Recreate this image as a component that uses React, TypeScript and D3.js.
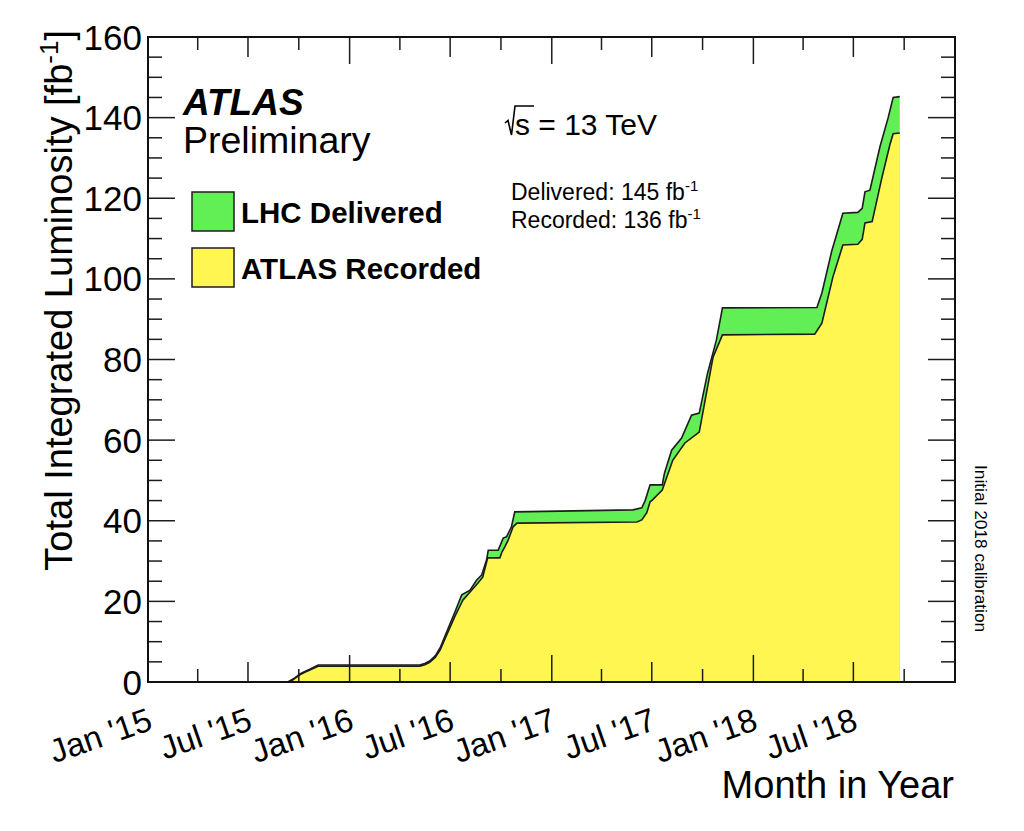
import React from "react";
import * as d3 from "d3";

const deliveredDates = [
  "2015-09-11", "2015-09-24", "2015-10-03", "2015-10-12", "2015-10-21", "2015-11-05",
  "2016-05-07", "2016-05-16", "2016-05-25", "2016-06-04", "2016-06-13", "2016-06-22",
  "2016-07-01", "2016-07-10", "2016-07-22", "2016-08-06", "2016-08-18", "2016-08-27",
  "2016-09-05", "2016-09-08", "2016-09-26", "2016-10-05", "2016-10-11", "2016-10-20",
  "2016-10-26", "2017-05-28", "2017-06-13", "2017-06-19", "2017-06-28", "2017-07-20",
  "2017-07-24", "2017-08-06", "2017-08-24", "2017-09-11", "2017-09-25", "2017-10-10",
  "2017-10-26", "2017-11-06", "2018-04-26", "2018-05-05", "2018-05-23", "2018-06-12",
  "2018-07-09", "2018-07-17", "2018-07-22", "2018-07-31", "2018-08-18", "2018-09-02",
  "2018-09-11", "2018-09-23",
];
const deliveredValues = [
  0, 1.0, 2.0, 2.6, 3.2, 4.2,
  4.2, 4.6, 5.2, 6.5, 8.5, 11.5,
  14.5, 17.5, 21.6, 22.8, 25.3, 26.5,
  30.3, 32.7, 32.7, 35.7, 36.0, 38.5,
  42.2, 42.7, 43.2, 45.0, 48.9, 48.9,
  51.8, 57.5, 60.5, 66.2, 66.7, 76.6,
  84.8, 92.8, 92.9, 96.5, 107.0, 116.3,
  116.5, 117.5, 121.6, 122.0, 132.7, 140.0,
  145.0, 145.2,
];

const recordedDates = [
  "2015-09-15", "2015-09-24", "2015-10-03", "2015-10-12", "2015-10-21", "2015-11-05",
  "2016-05-07", "2016-05-16", "2016-05-25", "2016-06-04", "2016-06-13", "2016-06-22",
  "2016-07-01", "2016-07-10", "2016-07-24", "2016-08-20", "2016-08-29", "2016-09-07",
  "2016-09-29", "2016-10-03", "2016-10-08", "2016-10-14", "2016-10-23", "2016-10-30",
  "2017-06-04", "2017-06-13", "2017-06-22", "2017-06-28", "2017-07-01", "2017-07-20",
  "2017-08-08", "2017-08-30", "2017-09-25", "2017-10-20", "2017-11-06", "2018-04-22",
  "2018-05-05", "2018-05-25", "2018-06-12", "2018-07-09", "2018-07-17", "2018-07-22",
  "2018-08-04", "2018-08-22", "2018-09-05", "2018-09-11", "2018-09-23",
];
const recordedValues = [
  0, 0.9, 1.8, 2.4, 3.0, 3.9,
  3.9, 4.3, 4.9, 6.1, 8.0, 10.8,
  13.6, 16.4, 20.3, 24.5, 26.0, 30.8,
  30.8, 32.3, 33.5, 35.2, 38.5, 39.4,
  39.7, 40.2, 42.0, 44.7, 45.0, 47.6,
  55.0, 59.3, 62.0, 80.6, 86.1, 86.3,
  89.0, 100.5, 108.4, 108.6, 109.8, 113.9,
  114.2, 125.3, 133.2, 136.0, 136.2,
];

const yTicks = [0, 20, 40, 60, 80, 100, 120, 140, 160];
const xTickLabels = ["Jan '15", "Jul '15", "Jan '16", "Jul '16", "Jan '17", "Jul '17", "Jan '18", "Jul '18"];

const FONT = "'Liberation Sans', Arial, Helvetica, sans-serif";
const GREEN = "#62ef56";
const YELLOW = "#fff652";
const LINE = "#1c1c1c";

export default function App() {
  const parse = d3.utcParse("%Y-%m-%d");
  const left = 148, right = 955, top = 37, bottom = 682;
  const x = d3
    .scaleUtc()
    .domain([new Date(Date.UTC(2015, 0, 1)), new Date(Date.UTC(2019, 0, 1))])
    .range([left, right]);
  const y = d3.scaleLinear().domain([0, 160]).range([bottom, top]);

  const del = deliveredDates.map((d, i) => ({ t: parse(d) as Date, v: deliveredValues[i] }));
  const rec = recordedDates.map((d, i) => ({ t: parse(d) as Date, v: recordedValues[i] }));

  const area = d3
    .area<{ t: Date; v: number }>()
    .x((d) => x(d.t))
    .y0(y(0))
    .y1((d) => y(d.v));
  const line = d3
    .line<{ t: Date; v: number }>()
    .x((d) => x(d.t))
    .y((d) => y(d.v));

  const quarterTicks = d3.utcMonth.every(3)!.range(
    new Date(Date.UTC(2015, 0, 1)),
    new Date(Date.UTC(2019, 0, 2))
  );
  const tickLen = (d: Date) => (d.getUTCMonth() === 0 ? 27 : d.getUTCMonth() === 6 ? 20 : 13);
  const labelTicks = quarterTicks.filter(
    (d) => (d.getUTCMonth() === 0 || d.getUTCMonth() === 6) && d.getUTCFullYear() < 2019
  );
  const minorY = d3.range(0, 161, 5);

  return (
    <svg
      width={1024}
      height={831}
      style={{ position: "absolute", left: 0, top: 0, background: "#fff" }}
      fontFamily={FONT}
    >
      <rect x={0} y={0} width={1024} height={831} fill="#fff" />
      {/* data */}
      <path d={area(del) || ""} fill={GREEN} stroke="none" />
      <path d={line(del) || ""} fill="none" stroke={LINE} strokeWidth={1.6} />
      <path d={area(rec) || ""} fill={YELLOW} stroke="none" />
      <path d={line(rec) || ""} fill="none" stroke={LINE} strokeWidth={1.6} />

      {/* y ticks */}
      {minorY.map((v) => {
        const len = v % 20 === 0 ? 27 : 14;
        return (
          <g key={"yt" + v} stroke={LINE} strokeWidth={1.5}>
            <line x1={left} x2={left + len} y1={y(v)} y2={y(v)} />
            <line x1={right} x2={right - len} y1={y(v)} y2={y(v)} />
          </g>
        );
      })}
      {/* x ticks */}
      {quarterTicks.map((d, i) => {
        const len = tickLen(d);
        return (
          <g key={"xt" + i} stroke={LINE} strokeWidth={1.5}>
            <line x1={x(d)} x2={x(d)} y1={bottom} y2={bottom - len} />
            <line x1={x(d)} x2={x(d)} y1={top} y2={top + len} />
          </g>
        );
      })}
      {/* frame */}
      <rect x={left} y={top} width={right - left} height={bottom - top} fill="none" stroke="#111" strokeWidth={2} />

      {/* y labels */}
      {yTicks.map((v) => (
        <text key={"yl" + v} x={142} y={y(v) + 12.5} fontSize={35} textAnchor="end" fill="#000">
          {v}
        </text>
      ))}
      {/* x labels */}
      {labelTicks.map((d, i) => (
        <text
          key={"xl" + i}
          transform={`translate(${x(d) + 6},729) rotate(-19)`}
          fontSize={33}
          textAnchor="end"
          fill="#000"
        >
          {xTickLabels[i]}
        </text>
      ))}

      {/* axis titles */}
      <text x={954} y={798} fontSize={38} textAnchor="end" fill="#000">
        Month in Year
      </text>
      <text transform="translate(72,30) rotate(-90)" fontSize={38} textAnchor="end" fill="#000">
        Total Integrated Luminosity [fb
        <tspan dy={-14} fontSize={26}>-1</tspan>
        <tspan dy={14}>]</tspan>
      </text>

      {/* ATLAS label */}
      <text x={183} y={115} fontSize={37} fontWeight="bold" fontStyle="italic" fill="#000">
        ATLAS
      </text>
      <text x={183} y={153} fontSize={37.5} fill="#000">
        Preliminary
      </text>

      {/* legend */}
      <rect x={192} y={192} width={42} height={39} fill={GREEN} stroke={LINE} strokeWidth={1.5} />
      <text x={241} y={223} fontSize={29.5} fontWeight="bold" fill="#000">
        LHC Delivered
      </text>
      <rect x={192} y={248} width={42} height={39} fill={YELLOW} stroke={LINE} strokeWidth={1.5} />
      <text x={241} y={279} fontSize={29.5} fontWeight="bold" fill="#000">
        ATLAS Recorded
      </text>

      {/* sqrt s */}
      <path d="M505,123 L508,120.5 L511.5,135 L515,106 L534,106" fill="none" stroke="#000" strokeWidth={1.6} />
      <text x={515} y={135} fontSize={30} fill="#000">
        s = 13 TeV
      </text>
      <text x={511} y={200} fontSize={23} fill="#000">
        Delivered: 145 fb
        <tspan dy={-9} fontSize={15}>-1</tspan>
      </text>
      <text x={511} y={228} fontSize={23} fill="#000">
        Recorded: 136 fb
        <tspan dy={-9} fontSize={15}>-1</tspan>
      </text>

      {/* side note */}
      <text transform="translate(975,465) rotate(90)" fontSize={17.3} fill="#000">
        Initial 2018 calibration
      </text>
    </svg>
  );
}
